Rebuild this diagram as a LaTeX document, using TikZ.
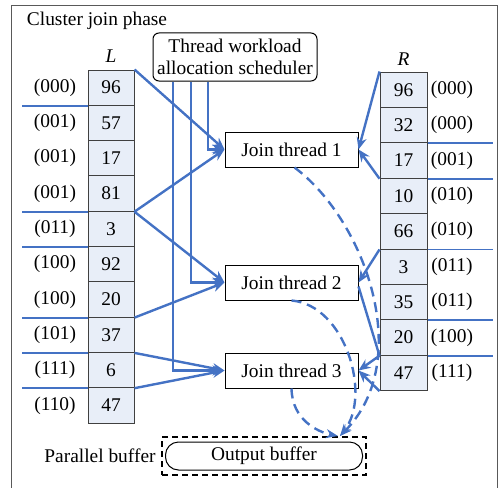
\documentclass[tikz,border=0pt]{standalone}
\usepackage{fontspec}
\setmainfont{Liberation Serif}
\usetikzlibrary{arrows.meta}
\definecolor{lineblue}{RGB}{68,114,196}
\definecolor{cellfill}{RGB}{232,238,248}
\begin{document}
\begin{tikzpicture}[x=1pt,y=-1pt,
  font=\fontsize{19.4}{24}\selectfont,
  cell/.style={draw=black!75, fill=cellfill, minimum width=46pt, minimum height=35.3pt, inner sep=0pt, line width=1pt},
  jt/.style={draw=black, fill=white, minimum width=133pt, minimum height=35pt, inner sep=0pt, line width=1pt},
  lab/.style={inner sep=0pt},
  conn/.style={draw=lineblue, line width=2.4pt},
  thinconn/.style={draw=lineblue, line width=1.8pt},
  arr/.style={conn, -{Stealth[length=12pt,width=10pt]}},
  dasharr/.style={conn, dash pattern=on 10pt off 6pt, -{Stealth[length=12pt,width=9pt]}}
]
\useasboundingbox (0,0) rectangle (500,487);
% frame
\draw[black!65, line width=0.9pt] (11,492) -- (11,5) -- (497,5) -- (497,492);
\node[lab] (title) at (97,21) {Cluster join phase};

% L column
\node[lab] (Lt) at (111,56) {\textit{L}};
\foreach \v [count=\i] in {96,57,17,81,3,92,20,37,6,47}
  \node[cell] (L\i) at (111,{70+35.3*(\i-0.5)}) {\v};
\foreach \t [count=\i] in {000,001,001,001,011,100,100,101,111,110}
  \node[lab] (LL\i) at (55,{70+35.3*(\i-0.5)}) {(\t)};

% R column
\node[lab] (Rt) at (403.5,59) {\textit{R}};
\foreach \v [count=\i] in {96,32,17,10,66,3,35,20,47}
  \node[cell, minimum width=47pt, minimum height=35.4pt] (R\i) at (403.5,{72+35.4*(\i-0.5)}) {\v};
\foreach \t [count=\i] in {000,000,001,010,010,011,011,100,111}
  \node[lab] (RL\i) at (452,{72+35.4*(\i-0.5)}) {(\t)};

% scheduler
\node[draw=black, rounded corners=6pt, line width=1pt, fill=white, align=center,
      minimum width=164pt, minimum height=48pt, inner sep=1pt] (S) at (235,57)
      {Thread workload\\[-2pt]allocation scheduler};

% join threads
\node[jt] (J1) at (291.5,149.5) {Join thread 1};
\node[jt] (J2) at (291.5,282.5) {Join thread 2};
\node[jt] (J3) at (291.5,370.5) {Join thread 3};

% output buffer
\node[draw=black, dash pattern=on 6pt off 4pt, line width=1.8pt, minimum width=204pt, minimum height=38pt] (PB) at (264,456) {};
\node[draw=black, rounded corners=13pt, line width=1pt, minimum width=197pt, minimum height=28pt, inner sep=0pt] (OB) at (264,456) {Output buffer};
\node[lab] (PBt) at (100,456) {Parallel buffer};
\coordinate (bufin) at (340,436);

% left partition lines
\foreach \i in {1,4,5,7,8,9}
  \draw[thinconn] (L\i.south west) -- ++(-66,0);
% right partition lines
\foreach \i in {2,3,5,7,8}
  \draw[thinconn] (R\i.south east) -- ++(65,0);

% scheduler lines
\draw[arr] ([xshift=-27pt]S.south) |- (J1.west);
\draw[arr] ([xshift=-44pt]S.south) |- (J2.west);
\draw[arr] ([xshift=-62pt]S.south) |- (J3.west);

% left arrows
\draw[arr] (L1.north east) -- (J1.west);
\draw[arr] (L4.south east) -- (J1.west);
\draw[arr] (L4.south east) -- (J2.west);
\draw[arr] (L7.south east) -- (J2.west);
\draw[arr] (L8.south east) -- (J3.west);
\draw[arr] (L9.south east) -- (J3.west);

% right arrows
\draw[arr] (R1.north west) -- (J1.east);
\draw[arr] (R3.south west) -- (J1.east);
\draw[arr] (R5.south west) -- (J2.east);
\draw[conn] (R8.south west) -- ([yshift=-4pt]J2.east);
\draw[arr] (R8.south west) -- (J3.east);
\draw[arr] (R9.south west) -- (J3.east);

% dashed output arrows
\draw[dasharr] ([xshift=3pt]J1.south) .. controls (365,220) and (415,360) .. (bufin);
\draw[dasharr] (J2.south) .. controls (345,305) and (372,395) .. (bufin);
\draw[dasharr] (J3.south) .. controls (292,420) and (318,432) .. ([xshift=-2pt]bufin);
\end{tikzpicture}
\end{document}
